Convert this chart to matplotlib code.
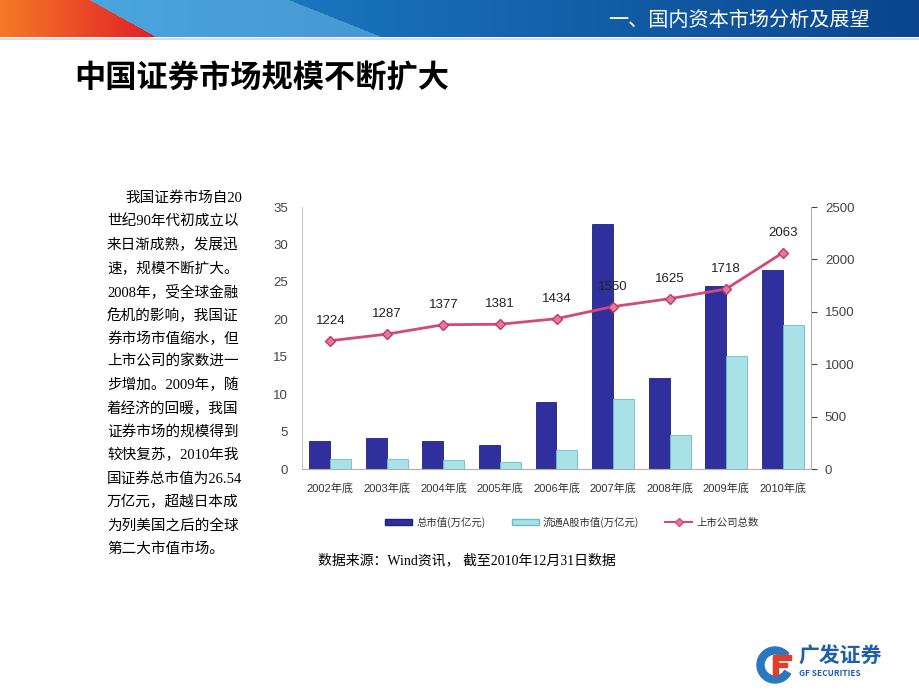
import numpy as np
import matplotlib
matplotlib.use("Agg")
import matplotlib.pyplot as plt
from matplotlib.patches import Wedge, Rectangle
from matplotlib.lines import Line2D

plt.rcParams['font.family'] = ['Noto Sans CJK SC', 'DejaVu Sans']
SANS_NUM = ['Liberation Sans', 'Noto Sans CJK SC']
SERIF_NUM = ['Liberation Serif', 'Noto Sans CJK SC']

years = ["2002年底", "2003年底", "2004年底", "2005年底", "2006年底",
         "2007年底", "2008年底", "2009年底", "2010年底"]
total_cap = [3.8, 4.2, 3.7, 3.2, 8.9, 32.7, 12.1, 24.4, 26.54]
float_cap = [1.3, 1.3, 1.2, 1.0, 2.5, 9.3, 4.6, 15.1, 19.2]
listed = [1224, 1287, 1377, 1381, 1434, 1550, 1625, 1718, 2063]

W, H = 920, 690
fig = plt.figure(figsize=(9.2, 6.9), dpi=100)
fig.patch.set_facecolor("white")


def fx(px):
    return px / W


def fy(py):
    return 1 - py / H


# header band
band_h = 37
yy, xx = np.mgrid[0:band_h, 0:W]
t = (xx / W)[..., None]
blue_a = np.array([0.13, 0.55, 0.83])
blue_b = np.array([0.04, 0.27, 0.56])
img = blue_a * (1 - t) + blue_b * t
sw = (xx > 85 + yy * 1.5) & (xx < 290 + yy * 2.5)
img[sw] = img[sw] * 0.55 + np.array([0.50, 0.80, 0.95]) * 0.45
red = xx < 90 + yy * 1.8
rt = np.clip(xx / 155.0, 0, 1)[..., None]
red_img = np.array([0.96, 0.48, 0.15]) * (1 - rt) + np.array([0.88, 0.12, 0.15]) * rt
img[red] = red_img[red]
hax = fig.add_axes([0, fy(band_h), 1, band_h / H])
hax.imshow(img, aspect="auto", extent=[0, W, band_h, 0])
hax.set_axis_off()
fig.text(fx(870), fy(20), "一、国内资本市场分析及展望", color="white",
         fontsize=14.5, ha="right", va="center")
fig.add_artist(Line2D([0, 1], [fy(39), fy(39)], color="#d8dde4", lw=1.5))

# title
fig.text(fx(74), fy(79), "中国证券市场规模不断扩大", fontsize=22.5,
         fontweight="bold", ha="left", va="center", color="black")

# paragraph
lines = ["我国证券市场自20", "世纪90年代初成立以", "来日渐成熟，发展迅",
         "速，规模不断扩大。", "2008年，受全球金融", "危机的影响，我国证",
         "券市场市值缩水，但", "上市公司的家数进一", "步增加。2009年，随",
         "着经济的回暖，我国", "证券市场的规模得到", "较快复苏，2010年我",
         "国证券总市值为26.54", "万亿元，超越日本成", "为列美国之后的全球",
         "第二大市值市场。"]
for i, s in enumerate(lines):
    x0 = 125 if i == 0 else 107
    fig.text(fx(x0), fy(198 + i * 23.4), s, fontsize=10.5, ha="left",
             va="center", color="black", family=SERIF_NUM)

# chart
ax = fig.add_axes([fx(302), fy(469), fx(811 - 302), (469 - 207) / H])
x = np.arange(len(years))
bw = 0.37
ax.bar(x - bw / 2, total_cap, bw, color="#2f2f9e", edgecolor="#22227a",
       linewidth=0.6, zorder=2)
ax.bar(x + bw / 2, float_cap, bw, color="#a8e2e6", edgecolor="#6bbcc4",
       linewidth=0.6, zorder=2)
ax.set_ylim(0, 35)
ax.set_yticks(range(0, 36, 5))
ax.set_xlim(-0.5, len(years) - 0.5)
ax.set_xticks(x)
ax.set_xticklabels(years, fontsize=8, color="#333333", family=SANS_NUM)
ax.tick_params(axis="x", length=0, pad=10)
ax.tick_params(axis="y", length=0, labelsize=9.5, colors="#444444", pad=10)
for lab in ax.get_yticklabels():
    lab.set_family(SANS_NUM)
for side in ["top", "right"]:
    ax.spines[side].set_visible(False)
ax.spines["left"].set_color("#c8c8c8")
ax.spines["bottom"].set_color("#b0b0b0")

ax2 = ax.twinx()
ax2.plot(x, listed, color="#d24a7a", lw=2, marker="D", markersize=5,
         markerfacecolor="#e27aa0", markeredgecolor="#c03a68", zorder=3)
ax2.set_ylim(0, 2500)
ax2.set_yticks(range(0, 2501, 500))
ax2.tick_params(axis="y", length=4, direction="out", labelsize=9.5,
                colors="#444444", pad=6)
for lab in ax2.get_yticklabels():
    lab.set_family(SANS_NUM)
for side in ["top", "left", "bottom"]:
    ax2.spines[side].set_visible(False)
ax2.spines["right"].set_color("#b0b0b0")
for xi, v in zip(x, listed):
    ax2.annotate(str(v), (xi, v), xytext=(0, 10), textcoords="offset points",
                 ha="center", va="bottom", fontsize=9.5, color="#222222",
                 family=SANS_NUM)

# legend
handles = [Rectangle((0, 0), 1, 1, facecolor="#2f2f9e", edgecolor="#22227a"),
           Rectangle((0, 0), 1, 1, facecolor="#a8e2e6", edgecolor="#6bbcc4"),
           Line2D([], [], color="#d24a7a", lw=1.5, marker="D", markersize=4,
                  markerfacecolor="#e27aa0")]
leg = fig.legend(handles, ["总市值(万亿元)", "流通A股市值(万亿元)", "上市公司总数"],
                 loc="center", bbox_to_anchor=(fx(572), fy(522)), ncol=3,
                 frameon=False, fontsize=7.5, handlelength=2.6,
                 handleheight=0.6, columnspacing=2.5, handletextpad=0.4)
for txt in leg.get_texts():
    txt.set_color("#333333")

fig.text(fx(318), fy(560), "数据来源：Wind资讯， 截至2010年12月31日数据",
         fontsize=10, ha="left", va="center", color="black", family=SERIF_NUM)

# logo
lax = fig.add_axes([fx(755), fy(685), fx(40), 40 / H])
lax.set_xlim(-1, 1)
lax.set_ylim(-1, 1)
lax.set_aspect("equal")
lax.add_patch(Wedge((0, 0), 0.9, 40, 330, width=0.35, color="#2a77c0"))
lax.add_patch(Rectangle((-0.1, 0.25), 0.9, 0.25, color="#e0402a"))
lax.add_patch(Rectangle((-0.1, -0.5), 0.25, 0.9, color="#e0402a"))
lax.add_patch(Rectangle((-0.1, -0.1), 0.7, 0.2, color="#e0402a"))
lax.set_axis_off()
fig.text(fx(798), fy(656), "广发证券", fontsize=15, fontweight="bold",
         color="#1d5fae", ha="left", va="center")
fig.text(fx(799), fy(674), "GF SECURITIES", fontsize=6, fontweight="bold",
         color="#1d5fae", ha="left", va="center", fontstyle="italic")

fig.savefig("out.png", dpi=100)
